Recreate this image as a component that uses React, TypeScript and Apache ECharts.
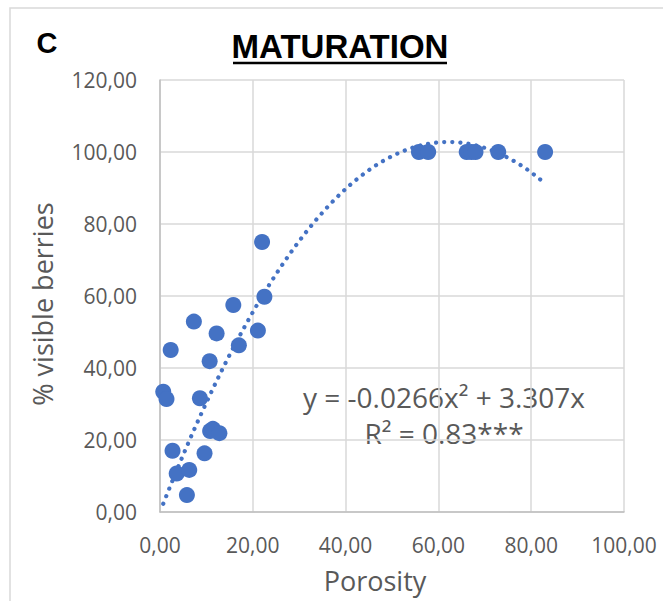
import React, { useEffect, useRef } from "react";
import * as echarts from "echarts";

const porosity = [0.7, 1.4, 2.3, 2.7, 3.6, 5.8, 6.3, 7.3, 8.6, 9.6, 10.7, 10.8, 11.4, 12.8, 12.2, 15.8, 17.0, 21.1, 22.0, 22.5, 55.8, 57.8, 66.1, 67.1, 68.0, 72.9, 83.0];
const visibleBerries = [33.4, 31.4, 45.0, 17.0, 10.7, 4.7, 11.7, 52.9, 31.6, 16.3, 41.9, 22.5, 23.1, 21.9, 49.6, 57.5, 46.3, 50.4, 75.0, 59.8, 100, 100, 100, 100, 100, 100, 100];
// trendline coefficients as shown in the chart: y = a*x^2 + b*x
const trendCoeffs = [-0.0266, 3.307];
const trendRange = [0.7, 83.0];
const xTicks = [0, 20, 40, 60, 80, 100];
const yTicks = [0, 20, 40, 60, 80, 100, 120];

const fmt = (v: number) => v.toFixed(2).replace(".", ",");

export default function App() {
  const ref = useRef<HTMLDivElement>(null);
  useEffect(() => {
    if (!ref.current) return;
    const chart = echarts.init(ref.current, null, { renderer: "svg" });
    const pts = porosity.map((x, i) => [x, visibleBerries[i]]);
    const trend: number[][] = [];
    for (let x = trendRange[0]; x <= trendRange[1] + 1e-9; x += 0.5) {
      trend.push([x, trendCoeffs[0] * x * x + trendCoeffs[1] * x]);
    }
    const labelStyle = { color: "#595959", fontFamily: "Open Sans", fontSize: 21 };
    chart.setOption({
      animation: false,
      grid: { left: 160, top: 80, width: 464, height: 432 },
      xAxis: {
        type: "value",
        min: xTicks[0],
        max: xTicks[xTicks.length - 1],
        interval: 20,
        axisLine: { show: true, lineStyle: { color: "#BFBFBF", width: 1.5 } },
        axisTick: { show: false },
        splitLine: { show: true, lineStyle: { color: "#D9D9D9", width: 1.5 } },
        axisLabel: { ...labelStyle, margin: 22, formatter: (v: number) => fmt(v) },
      },
      yAxis: {
        type: "value",
        min: yTicks[0],
        max: yTicks[yTicks.length - 1],
        interval: 20,
        axisLine: { show: true, lineStyle: { color: "#BFBFBF", width: 1.5 } },
        axisTick: { show: false },
        splitLine: { show: true, lineStyle: { color: "#D9D9D9", width: 1.5 } },
        axisLabel: { ...labelStyle, margin: 23, formatter: (v: number) => fmt(v) },
      },
      series: [
        {
          type: "line",
          data: trend,
          showSymbol: false,
          symbol: "none",
          silent: true,
          z: 3,
          lineStyle: { color: "#4472C4", width: 4.2, type: [0.1, 8], cap: "round" },
        },
        {
          type: "scatter",
          data: pts,
          symbol: "circle",
          symbolSize: 16,
          z: 4,
          itemStyle: { color: "#4472C4", opacity: 1 },
        },
      ],
      graphic: [
        {
          type: "rect",
          shape: { x: 10, y: 8, width: 800, height: 800 },
          style: { fill: "none", stroke: "#D9D9D9", lineWidth: 1.5 },
          z: -10,
        },
        {
          type: "text",
          x: 47,
          y: 43,
          style: { text: "C", font: "bold 29px 'Liberation Sans', Arial, sans-serif", fill: "#000", textAlign: "center", textVerticalAlign: "middle" },
        },
        {
          type: "text",
          x: 340,
          y: 46,
          style: { text: "MATURATION", font: "bold 33px 'Liberation Sans', Arial, sans-serif", fill: "#000", textAlign: "center", textVerticalAlign: "middle" },
        },
        {
          type: "line",
          shape: { x1: 233, y1: 63, x2: 447, y2: 63 },
          style: { stroke: "#000", lineWidth: 2.5 },
        },
        {
          type: "text",
          x: 375,
          y: 580,
          style: { text: "Porosity", font: "27px 'Open Sans', sans-serif", fill: "#595959", textAlign: "center", textVerticalAlign: "middle" },
        },
        {
          type: "text",
          x: 42,
          y: 304,
          rotation: Math.PI / 2,
          style: { text: "% visible berries", font: "27px 'Open Sans', sans-serif", fill: "#595959", textAlign: "center", textVerticalAlign: "middle" },
        },
        {
          type: "text",
          x: 444,
          y: 397,
          style: { text: "y = -0.0266x² + 3.307x", font: "28px 'Open Sans', sans-serif", fill: "#595959", textAlign: "center", textVerticalAlign: "middle" },
        },
        {
          type: "text",
          x: 444,
          y: 433,
          style: { text: "R² = 0.83***", font: "28px 'Open Sans', sans-serif", fill: "#595959", textAlign: "center", textVerticalAlign: "middle" },
        },
      ],
    });
    return () => chart.dispose();
  }, []);
  return <div ref={ref} style={{ position: "fixed", left: 0, top: 0, width: 663, height: 601, background: "#fff" }} />;
}
